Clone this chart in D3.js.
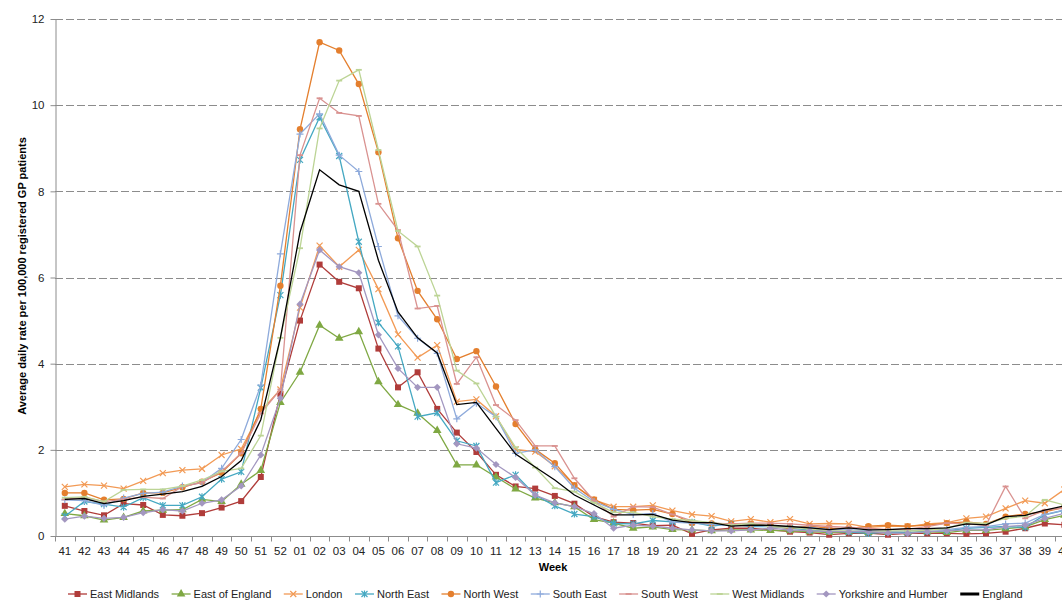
<!DOCTYPE html>
<meta charset="utf-8">
<style>
body { margin: 0; background: #fff; }
svg { font-family: "Liberation Sans", Arial, sans-serif; }
.grid line { stroke: #8c8c8c; stroke-width: 1px; stroke-dasharray: 8,3; }
.axis path, .axis line { stroke: #8c8c8c; }
.axis text { fill: #222; font-size: 11.5px; }
.series { fill: none; stroke-width: 1.3px; }
.title { font-size: 11px; font-weight: bold; fill: #000; }
.legend text { font-size: 11px; fill: #222; }
</style>
<body>
<script src="https://cdn.jsdelivr.net/npm/d3@7"></script>
<script>

var width = 1062,
    height = 600;

// weeks 41..52, then 01..40
var weeks = ["41","42","43","44","45","46","47","48","49","50","51","52",
  "01","02","03","04","05","06","07","08","09","10","11","12","13","14","15","16","17","18","19","20",
  "21","22","23","24","25","26","27","28","29","30","31","32","33","34","35","36","37","38","39","40"];

var yTicks = [0, 2, 4, 6, 8, 10, 12];

var eastMidlands = [0.70,0.58,0.48,0.75,0.72,0.49,0.47,0.53,0.66,0.81,1.37,3.3,
  5.0,6.3,5.9,5.75,4.35,3.45,3.8,2.95,2.4,1.95,
  1.42,1.15,1.1,0.93,0.75,0.45,0.32,0.3,0.24,0.25,
  0.05,0.14,0.18,0.18,0.14,0.1,0.08,0.03,0.06,0.07,
  0.03,0.06,0.06,0.06,0.05,0.06,0.1,0.18,0.29,0.26];
var eastOfEngland = [0.52,0.47,0.37,0.43,0.58,0.6,0.61,0.85,0.8,1.2,1.52,3.1,
  3.8,4.89,4.59,4.74,3.58,3.05,2.85,2.45,1.65,1.65,
  1.37,1.09,0.88,0.77,0.68,0.38,0.3,0.18,0.21,0.15,
  0.14,0.12,0.14,0.14,0.13,0.12,0.1,0.08,0.09,0.08,
  0.08,0.08,0.1,0.08,0.13,0.13,0.17,0.21,0.38,0.48];
var london = [1.14,1.2,1.17,1.1,1.28,1.46,1.53,1.56,1.88,2.02,2.9,3.4,
  5.3,6.74,6.25,6.64,5.73,4.68,4.14,4.43,3.12,3.17,
  2.78,2.01,1.96,1.62,1.18,0.84,0.68,0.68,0.71,0.59,
  0.5,0.46,0.34,0.39,0.32,0.39,0.28,0.29,0.28,0.2,
  0.23,0.22,0.28,0.31,0.41,0.45,0.64,0.82,0.76,1.08];
var northEast = [0.46,0.8,0.74,0.67,0.89,0.71,0.71,0.91,1.32,1.49,3.44,5.59,
  8.73,9.72,8.82,6.83,4.95,4.4,2.77,2.86,2.21,2.09,
  1.24,1.42,0.95,0.7,0.51,0.45,0.29,0.28,0.36,0.33,
  0.32,0.23,0.28,0.22,0.22,0.18,0.14,0.12,0.09,0.06,
  0.09,0.08,0.1,0.12,0.18,0.2,0.22,0.2,0.49,0.6];
var northWest = [1.0,1.0,0.84,0.86,1.0,1.0,1.13,1.26,1.47,1.92,2.95,5.81,
  9.44,11.46,11.27,10.49,8.91,6.91,5.69,5.03,4.11,4.29,
  3.47,2.6,2.01,1.69,1.18,0.85,0.62,0.6,0.62,0.51,
  0.3,0.29,0.28,0.28,0.23,0.18,0.23,0.18,0.17,0.23,
  0.25,0.23,0.25,0.3,0.33,0.28,0.45,0.51,0.56,0.67];
var southEast = [0.84,0.82,0.71,0.88,0.99,1.02,1.16,1.24,1.57,2.24,3.5,6.55,
  9.33,9.8,8.84,8.46,6.72,5.11,4.59,4.24,2.72,3.08,
  2.77,1.92,2.0,1.61,1.11,0.8,0.62,0.5,0.52,0.32,
  0.3,0.27,0.25,0.25,0.22,0.2,0.2,0.15,0.15,0.12,
  0.1,0.12,0.15,0.15,0.2,0.22,0.28,0.3,0.5,0.6];
var southWest = [0.85,0.9,0.8,0.85,0.9,0.87,1.15,1.24,1.5,1.92,2.85,3.4,
  8.84,10.16,9.82,9.75,7.71,7.1,5.28,5.34,3.53,4.15,
  3.04,2.69,2.09,2.09,1.34,0.82,0.45,0.68,0.67,0.5,
  0.35,0.3,0.28,0.3,0.3,0.28,0.25,0.22,0.2,0.18,
  0.15,0.16,0.22,0.3,0.28,0.25,1.15,0.41,0.6,0.65];
var westMidlands = [0.89,0.91,0.8,1.07,1.08,1.08,1.16,1.3,1.5,1.57,2.33,4.6,
  6.68,9.46,10.57,10.82,8.96,7.08,6.72,5.58,3.84,3.54,
  2.77,2.06,1.59,1.11,1.03,0.77,0.55,0.55,0.45,0.39,
  0.36,0.31,0.25,0.29,0.22,0.2,0.16,0.12,0.12,0.1,
  0.12,0.12,0.13,0.18,0.31,0.29,0.41,0.46,0.84,0.72];
var yorkshire = [0.39,0.46,0.41,0.43,0.54,0.61,0.58,0.76,0.84,1.16,1.88,3.2,
  5.38,6.64,6.25,6.11,4.67,3.89,3.45,3.45,2.14,2.04,
  1.66,1.36,0.95,0.77,0.68,0.52,0.18,0.25,0.23,0.18,
  0.14,0.12,0.12,0.14,0.18,0.14,0.12,0.1,0.1,0.1,
  0.07,0.06,0.1,0.12,0.14,0.14,0.22,0.25,0.41,0.53];
var england = [0.85,0.87,0.75,0.82,0.92,0.97,1.03,1.15,1.38,1.75,2.7,4.6,
  7.05,8.5,8.15,8.0,6.4,5.2,4.6,4.25,3.05,3.1,
  2.5,1.9,1.6,1.3,0.95,0.72,0.49,0.49,0.5,0.37,
  0.31,0.31,0.23,0.25,0.25,0.22,0.19,0.15,0.19,0.14,
  0.15,0.17,0.17,0.19,0.28,0.26,0.45,0.48,0.6,0.7];

var seriesNames = ["East Midlands", "East of England", "London", "North East", "North West",
  "South East", "South West", "West Midlands", "Yorkshire and Humber", "England"];
var seriesValues = [eastMidlands, eastOfEngland, london, northEast, northWest,
  southEast, southWest, westMidlands, yorkshire, england];
var seriesColors = ["#b03c3a", "#7fa843", "#f29a55", "#45a8c2", "#e47f2e",
  "#8eaadb", "#d99290", "#bcd495", "#a397c0", "#000000"];
var seriesMarkers = ["square", "triangle", "times", "asterisk", "circle",
  "plus", "dash", "dash", "diamond", "none"];

var margin = {left: 55, top: 19, bottom: 64};
var band = 19.6;

var x = d3.scaleBand()
    .domain(weeks)
    .range([margin.left, margin.left + band * weeks.length]);

var y = d3.scaleLinear()
    .domain([0, 12])
    .range([height - margin.bottom, margin.top]);

var svg = d3.select("body").append("svg")
    .attr("width", width)
    .attr("height", height);

svg.append("rect").attr("width", width).attr("height", height).attr("fill", "#fff");

// gridlines
svg.append("g")
    .attr("class", "grid")
  .selectAll("line")
    .data(yTicks.filter(function(d) { return d > 0; }))
  .enter().append("line")
    .attr("x1", margin.left)
    .attr("x2", width)
    .attr("y1", function(d) { return Math.round(y(d)) + 0.5; })
    .attr("y2", function(d) { return Math.round(y(d)) + 0.5; });

// y axis
var yAxis = svg.append("g")
    .attr("class", "axis")
    .attr("transform", "translate(" + (margin.left + 0.5) + ",0)")
    .call(d3.axisLeft(y).tickValues(yTicks).tickSize(5).tickPadding(6).tickSizeOuter(0));
yAxis.selectAll("text").attr("font-size", "11.5px");

// x axis, ticks between categories
var xAxisG = svg.append("g")
    .attr("class", "axis")
    .attr("transform", "translate(0," + (Math.round(y(0)) + 0.5) + ")");
xAxisG.append("line")
    .attr("x1", margin.left).attr("x2", width);
xAxisG.selectAll(".tk")
    .data(weeks)
  .enter().append("line")
    .attr("class", "tk")
    .attr("x1", function(d) { return Math.round(x(d)) + 0.5; })
    .attr("x2", function(d) { return Math.round(x(d)) + 0.5; })
    .attr("y1", 0).attr("y2", 5);
xAxisG.selectAll(".lbl")
    .data(weeks)
  .enter().append("text")
    .attr("class", "lbl")
    .attr("x", function(d) { return x(d) + x.bandwidth() / 2; })
    .attr("y", 18)
    .attr("text-anchor", "middle")
    .text(function(d) { return d; });

svg.append("text")
    .attr("class", "title")
    .attr("x", 553)
    .attr("y", 571)
    .attr("text-anchor", "middle")
    .text("Week");

svg.append("text")
    .attr("class", "title")
    .attr("transform", "translate(26,276) rotate(-90)")
    .attr("text-anchor", "middle")
    .text("Average daily rate per 100,000 registered GP patients");

function cx(i) { return x(weeks[i]) + x.bandwidth() / 2; }

var line = d3.line()
    .x(function(d, i) { return cx(i); })
    .y(function(d) { return y(d); });

function drawMarker(g, type, color) {
  if (type === "square") {
    g.append("rect").attr("x", -3).attr("y", -3).attr("width", 6).attr("height", 6).attr("fill", color);
  } else if (type === "triangle") {
    g.append("path").attr("d", d3.symbol(d3.symbolTriangle, 32)()).attr("fill", color);
  } else if (type === "circle") {
    g.append("circle").attr("r", 3.2).attr("fill", color);
  } else if (type === "diamond") {
    g.append("path").attr("d", "M0,-3.6L3.6,0L0,3.6L-3.6,0Z").attr("fill", color);
  } else if (type === "times") {
    g.append("path").attr("d", "M-3,-3L3,3M-3,3L3,-3").attr("stroke", color).attr("stroke-width", 1.2).attr("fill", "none");
  } else if (type === "asterisk") {
    g.append("path").attr("d", "M-3,-3L3,3M-3,3L3,-3M0,-3.5L0,3.5").attr("stroke", color).attr("stroke-width", 1.2).attr("fill", "none");
  } else if (type === "plus") {
    g.append("path").attr("d", "M-3.5,0L3.5,0M0,-3.5L0,3.5").attr("stroke", color).attr("stroke-width", 1.2).attr("fill", "none");
  } else if (type === "dash") {
    g.append("path").attr("d", "M-3,0L3,0").attr("stroke", color).attr("stroke-width", 1.8).attr("fill", "none");
  }
}

var plot = svg.append("g");

seriesValues.forEach(function(vals, k) {
  var isEng = seriesNames[k] === "England";
  plot.append("path")
      .datum(vals)
      .attr("class", "series")
      .attr("stroke", seriesColors[k])
      .attr("stroke-width", isEng ? 3 : 1.3)
      .attr("d", line);
  if (seriesMarkers[k] !== "none") {
    plot.selectAll(".m" + k)
        .data(vals)
      .enter().append("g")
        .attr("class", "m" + k)
        .attr("transform", function(d, i) { return "translate(" + cx(i) + "," + y(d) + ")"; })
        .each(function() { drawMarker(d3.select(this), seriesMarkers[k], seriesColors[k]); });
  }
});

// legend
var legend = svg.append("g").attr("class", "legend");
var lx = 68, ly = 594;
seriesNames.forEach(function(name, k) {
  var g = legend.append("g").attr("transform", "translate(" + lx + "," + ly + ")");
  g.append("line")
      .attr("x1", 0).attr("x2", 19)
      .attr("stroke", seriesColors[k])
      .attr("stroke-width", k === 9 ? 3 : 1.3);
  if (seriesMarkers[k] !== "none") {
    var mg = g.append("g").attr("transform", "translate(9.5,0)");
    drawMarker(mg, seriesMarkers[k], seriesColors[k]);
  }
  var t = g.append("text")
      .attr("x", 22)
      .attr("y", 4)
      .text(name);
  lx += 22 + t.node().getComputedTextLength() + 12.5;
});

</script>
